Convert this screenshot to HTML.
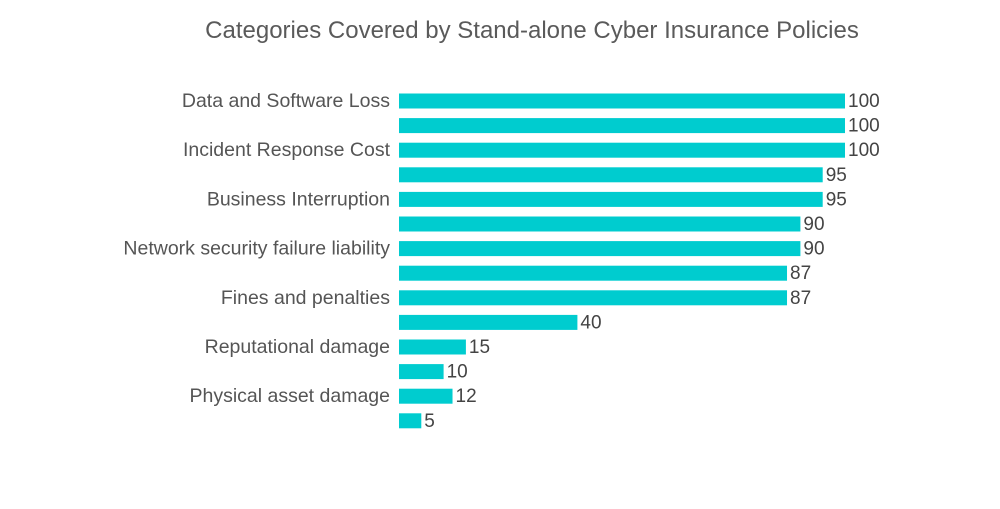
<!DOCTYPE html>
<html><head><meta charset="utf-8"><style>
body{margin:0;background:#fff;font-family:"Liberation Sans",sans-serif}
</style></head><body>
<svg width="1000" height="504">
<text x="532" y="38" text-anchor="middle" font-size="24" fill="#5a5a5a">Categories Covered by Stand-alone Cyber Insurance Policies</text>
<g id="bars"></g>
</svg>
<script>
const categories=["Data and Software Loss","","Incident Response Cost","","Business Interruption","","Network security failure liability","","Fines and penalties","","Reputational damage","","Physical asset damage",""];
const values=[100,100,100,95,95,90,90,87,87,40,15,10,12,5];
const x0=399, scale=4.46, y0=93.5, step=24.6, bh=15;
const xs=v=>x0+v*scale;
const ys=i=>y0+i*step;
const g=document.getElementById('bars');
const NS='http://www.w3.org/2000/svg';
values.forEach((v,i)=>{
  const r=document.createElementNS(NS,'rect');
  r.setAttribute('x',x0);r.setAttribute('y',ys(i));
  r.setAttribute('width',xs(v)-x0);r.setAttribute('height',bh);
  r.setAttribute('fill','#00cccf');
  
  
  g.appendChild(r);
  const t=document.createElementNS(NS,'text');
  t.setAttribute('x',xs(v)+3);t.setAttribute('y',ys(i)+bh/2+6);
  t.setAttribute('font-size','19');t.setAttribute('fill','#444');
  t.textContent=v;
  
  
  g.appendChild(t);
  if(categories[i]){
    const c=document.createElementNS(NS,'text');
    c.setAttribute('x',390);c.setAttribute('y',ys(i)+bh/2+6);
    c.setAttribute('text-anchor','end');c.setAttribute('font-size','19.5');c.setAttribute('fill','#555');
    c.textContent=categories[i];
    
    
    g.appendChild(c);
  }
});
</script>
</body></html>
